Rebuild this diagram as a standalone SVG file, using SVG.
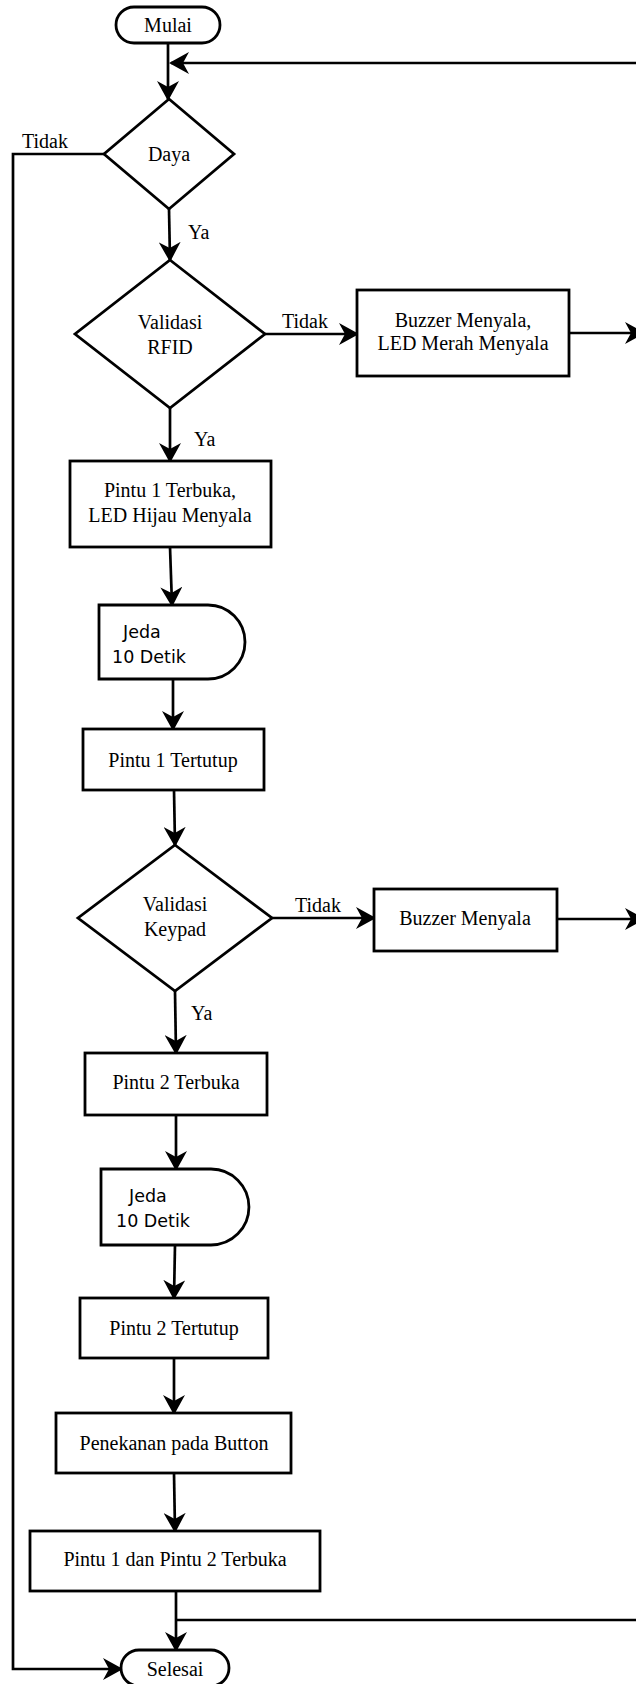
<svg xmlns="http://www.w3.org/2000/svg" width="636" height="1684" viewBox="0 0 636 1684">
<style>
.s{fill:#fff;stroke:#000;stroke-width:2.8}
.c{fill:none;stroke:#000;stroke-width:2.7}
.t{font-family:"Liberation Serif","Times New Roman",serif;font-size:20px;fill:#000;text-anchor:middle}
.l{font-family:"Liberation Serif","Times New Roman",serif;font-size:20px;fill:#000}
.d{font-family:"DejaVu Sans",Verdana,sans-serif;font-size:17.5px;fill:#000}
</style>
<defs>
<marker id="a" markerUnits="userSpaceOnUse" markerWidth="20" markerHeight="22" viewBox="0 0 20 22" refX="18" refY="11" orient="auto">
<path d="M0,0 L20,11 L0,22 L6,11 Z" fill="#000"/>
</marker>
</defs>
<rect width="636" height="1684" fill="#fff"/>
<g id="connectors">
<path class="c" d="M168,43 V99" marker-end="url(#a)"/>
<path class="c" d="M636,63 H171" marker-end="url(#a)"/>
<path class="c" d="M104,154 H13 V1669 H121" marker-end="url(#a)"/>
<path class="c" d="M169,209 L170,260" marker-end="url(#a)"/>
<path class="c" d="M265,334 H357" marker-end="url(#a)"/>
<path class="c" d="M569,333 H643" marker-end="url(#a)"/>
<path class="c" d="M170,408 V461" marker-end="url(#a)"/>
<path class="c" d="M170,547 L172,605" marker-end="url(#a)"/>
<path class="c" d="M173,679 V729" marker-end="url(#a)"/>
<path class="c" d="M174,790 L175,845" marker-end="url(#a)"/>
<path class="c" d="M272,918 H374" marker-end="url(#a)"/>
<path class="c" d="M557,919 H643" marker-end="url(#a)"/>
<path class="c" d="M175,991 L176,1053" marker-end="url(#a)"/>
<path class="c" d="M176,1115 V1169" marker-end="url(#a)"/>
<path class="c" d="M175,1245 L174,1298" marker-end="url(#a)"/>
<path class="c" d="M174,1358 V1413" marker-end="url(#a)"/>
<path class="c" d="M174,1473 L175,1531" marker-end="url(#a)"/>
<path class="c" d="M176,1591 V1650" marker-end="url(#a)"/>
<path class="c" d="M176,1620 H636"/>
<text class="l" x="22" y="148">Tidak</text>
<text class="l" x="188" y="239">Ya</text>
<text class="l" x="282" y="328">Tidak</text>
<text class="l" x="194" y="446">Ya</text>
<text class="l" x="295" y="912">Tidak</text>
<text class="l" x="191" y="1020">Ya</text>
</g>
<g id="mulai">
<rect class="s" x="116" y="7" width="104" height="36" rx="18"/>
<text class="t" x="168" y="32">Mulai</text>
</g>
<g id="daya">
<polygon class="s" points="169,99 234,154 169,209 104,154"/>
<text class="t" x="169" y="161">Daya</text>
</g>
<g id="rfid">
<polygon class="s" points="170,260 265,334 170,408 75,334"/>
<text class="t" x="170" y="329">Validasi</text>
<text class="t" x="170" y="354">RFID</text>
</g>
<g id="buzzer1">
<rect class="s" x="357" y="290" width="212" height="86"/>
<text class="t" x="463" y="327">Buzzer Menyala,</text>
<text class="t" x="463" y="350">LED Merah Menyala</text>
</g>
<g id="pintu1buka">
<rect class="s" x="70" y="461" width="201" height="86"/>
<text class="t" x="170" y="497">Pintu 1 Terbuka,</text>
<text class="t" x="170" y="522">LED Hijau Menyala</text>
</g>
<g id="jeda1">
<path class="s" d="M99,605 H208 A37,37 0 0 1 208,679 H99 Z"/>
<text class="d" x="123" y="638">Jeda</text>
<text class="d" x="112" y="663">10 Detik</text>
</g>
<g id="pintu1tutup">
<rect class="s" x="83" y="729" width="181" height="61"/>
<text class="t" x="173" y="767">Pintu 1 Tertutup</text>
</g>
<g id="keypad">
<polygon class="s" points="175,845 272,918 175,991 78,918"/>
<text class="t" x="175" y="911">Validasi</text>
<text class="t" x="175" y="936">Keypad</text>
</g>
<g id="buzzer2">
<rect class="s" x="374" y="889" width="183" height="62"/>
<text class="t" x="465" y="925">Buzzer Menyala</text>
</g>
<g id="pintu2buka">
<rect class="s" x="85" y="1053" width="182" height="62"/>
<text class="t" x="176" y="1089">Pintu 2 Terbuka</text>
</g>
<g id="jeda2">
<path class="s" d="M101,1169 H211 A38,38 0 0 1 211,1245 H101 Z"/>
<text class="d" x="129" y="1202">Jeda</text>
<text class="d" x="116" y="1227">10 Detik</text>
</g>
<g id="pintu2tutup">
<rect class="s" x="80" y="1298" width="188" height="60"/>
<text class="t" x="174" y="1335">Pintu 2 Tertutup</text>
</g>
<g id="button">
<rect class="s" x="56" y="1413" width="235" height="60"/>
<text class="t" x="174" y="1450">Penekanan pada Button</text>
</g>
<g id="keduaterbuka">
<rect class="s" x="30" y="1531" width="290" height="60"/>
<text class="t" x="175" y="1566">Pintu 1 dan Pintu 2 Terbuka</text>
</g>
<g id="selesai">
<rect class="s" x="121" y="1650" width="108" height="36" rx="18"/>
<text class="t" x="175" y="1676">Selesai</text>
</g>
</svg>
